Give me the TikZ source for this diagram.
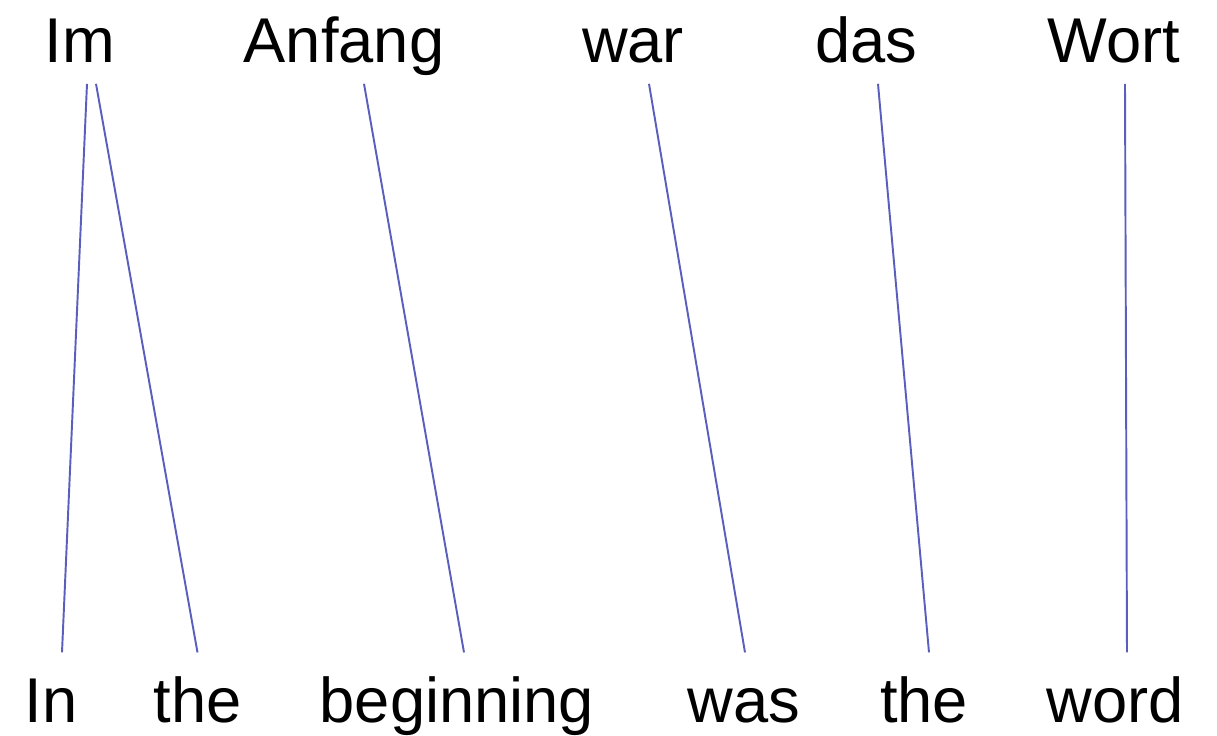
\documentclass[tikz,border=0pt]{standalone}
\usepackage{fontspec}
\setmainfont{Liberation Sans}
\usepackage{xcolor}
\usepackage{tikz}
\definecolor{linkblue}{HTML}{5A5EBC}

\tikzset{
  word/.style={inner xsep=0pt,font=\fontsize{18}{22}\selectfont,anchor=base},
  srcword/.style={word,text depth=4pt,inner ysep=2pt},
  tgtword/.style={word,text height=13pt,inner ysep=6.6pt},
  link/.style={linkblue,line width=.55pt}
}

\begin{document}
\begin{tikzpicture}
  \useasboundingbox (0,0) rectangle (12.17,7.35);

  % German sentence
  \node[srcword] (im)     at (0.80,6.73)  {Im};
  \node[srcword] (anfang) at (3.44,6.73)  {Anfang};
  \node[srcword] (war)    at (6.33,6.73)  {war};
  \node[srcword] (das)    at (8.66,6.73)  {das};
  \node[srcword] (wort)   at (11.14,6.73) {Wort};

  % English sentence
  \node[tgtword] (in)        at (0.51,0.13)  {In};
  \node[tgtword] (the1)      at (1.975,0.13) {the};
  \node[tgtword] (beginning) at (4.57,0.13)  {beginning};
  \node[tgtword] (was)       at (7.44,0.13)  {was};
  \node[tgtword] (the2)      at (9.24,0.13)  {the};
  \node[tgtword] (word)      at (11.15,0.13) {word};

  % word alignments
  \draw[link] ([xshift=.07cm]im.south) -- ([xshift=.11cm]in.north);
  \draw[link] ([xshift=.16cm]im.south) -- (the1.north);
  \draw[link] ([xshift=.20cm]anfang.south) -- ([xshift=.07cm]beginning.north);
  \draw[link] ([xshift=.16cm]war.south) -- ([xshift=.01cm]was.north);
  \draw[link] ([xshift=.12cm]das.south) -- ([xshift=.05cm]the2.north);
  \draw[link] ([xshift=.11cm]wort.south) -- ([xshift=.12cm]word.north);
\end{tikzpicture}
\end{document}
